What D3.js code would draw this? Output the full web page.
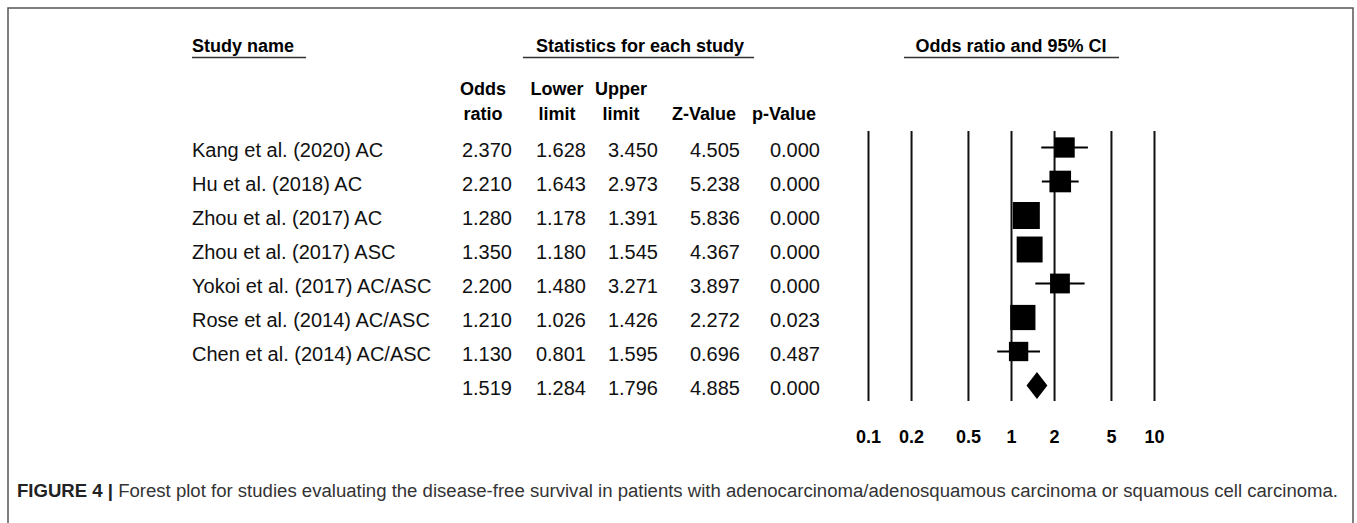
<!DOCTYPE html>
<html>
<head>
<meta charset="utf-8">
<script src="https://cdn.jsdelivr.net/npm/d3@7"></script>
<style>
  html, body { margin: 0; padding: 0; background: #fff; }
  svg { display: block; font-family: "Liberation Sans", Arial, Helvetica, sans-serif; }
  .hdr { font-weight: bold; font-size: 18px; fill: #000; }
  .cell { font-size: 20px; fill: #111; }
  .tick text { font-weight: bold; font-size: 18px; fill: #000; }
</style>
</head>
<body>
<svg id="chart" width="1357" height="523"></svg>
<script>
// ---- data ----
const studies = [
  "Kang et al. (2020) AC",
  "Hu et al. (2018) AC",
  "Zhou et al. (2017) AC",
  "Zhou et al. (2017) ASC",
  "Yokoi et al. (2017) AC/ASC",
  "Rose et al. (2014) AC/ASC",
  "Chen et al. (2014) AC/ASC"
];
const oddsRatio = [2.370, 2.210, 1.280, 1.350, 2.200, 1.210, 1.130];
const lowerLimit = [1.628, 1.643, 1.178, 1.180, 1.480, 1.026, 0.801];
const upperLimit = [3.450, 2.973, 1.391, 1.545, 3.271, 1.426, 1.595];
const zValue = [4.505, 5.238, 5.836, 4.367, 3.897, 2.272, 0.696];
const pValue = [0.000, 0.000, 0.000, 0.000, 0.000, 0.023, 0.487];
// relative weights
const weights = [11.0, 12.5, 19.5, 18.0, 10.5, 17.0, 10.0];
// pooled estimate: OR, lower, upper, Z, p
const summary = [1.519, 1.284, 1.796, 4.885, 0.000];
const tickValues = [0.1, 0.2, 0.5, 1, 2, 5, 10];
const colHeads = [["Odds", "ratio"], ["Lower", "limit"], ["Upper", "limit"], ["", "Z-Value"], ["", "p-Value"]];
const caption = "Forest plot for studies evaluating the disease-free survival in patients with adenocarcinoma/adenosquamous carcinoma or squamous cell carcinoma.";

const svg = d3.select("#chart");
const fmt = d3.format(".3f");

// frame
svg.append("rect").attr("x", 8).attr("y", 8).attr("width", 1345).attr("height", 540)
  .attr("fill", "none").attr("stroke", "#555").attr("stroke-width", 1.5);

// rows: 7 studies + summary
const rowIdx = d3.range(studies.length + 1);
const y = d3.scalePoint().domain(rowIdx).range([147.5, 385.5]);
const x = d3.scaleLog().domain([0.1, 10]).range([868, 1154]);
const boxSize = d3.scaleSqrt().domain([0, d3.max(weights)]).range([0, 27]);

// column positions (right edges of numeric columns, centres of headers)
const colRight = [512, 586, 658, 740, 820];
const colMid = [483, 557, 621, 704, 784];

// section headers with underlines
const sections = [
  { t: "Study name", x: 192, x1: 192, x2: 306, anchor: "start" },
  { t: "Statistics for each study", x: 640, x1: 523, x2: 754, anchor: "middle" },
  { t: "Odds ratio and 95% CI", x: 1011, x1: 904, x2: 1119, anchor: "middle" }
];
const sec = svg.append("g");
sec.selectAll("text").data(sections).join("text")
  .attr("class", "hdr").attr("x", d => d.x).attr("y", 52)
  .attr("text-anchor", d => d.anchor).text(d => d.t);
sec.selectAll("line").data(sections).join("line")
  .attr("x1", d => d.x1).attr("x2", d => d.x2).attr("y1", 57.5).attr("y2", 57.5)
  .attr("stroke", "#333").attr("stroke-width", 1.5);

// column headers (two lines)
const ch = svg.append("g");
colHeads.forEach((h, i) => {
  h.forEach((t, k) => {
    if (!t) return;
    ch.append("text").attr("class", "hdr").attr("x", colMid[i]).attr("y", k ? 120 : 95)
      .attr("text-anchor", "middle").text(t);
  });
});

// table body
const body = svg.append("g");
body.selectAll("text.name").data(studies).join("text")
  .attr("class", "cell name").attr("x", 192).attr("y", (d, i) => y(i) + 9).text(d => d);

const tableRows = studies.map((s, i) => [oddsRatio[i], lowerLimit[i], upperLimit[i], zValue[i], pValue[i]]);
tableRows.push(summary);
tableRows.forEach((r, i) => {
  body.selectAll(null).data(r).join("text")
    .attr("class", "cell").attr("x", (d, j) => colRight[j]).attr("y", y(i) + 9)
    .attr("text-anchor", "end").text(d => fmt(d));
});

// reference lines at each tick + labels
const axis = d3.axisBottom(x).tickValues(tickValues).tickFormat(d3.format("~g"))
  .tickSizeInner(-270).tickSizeOuter(0).tickPadding(29);
const ax = svg.append("g").attr("transform", "translate(0,401)").call(axis);
ax.select(".domain").remove();
ax.selectAll(".tick line").attr("stroke", "#111").attr("stroke-width", 2);

// study markers
const plot = svg.append("g");
plot.selectAll("line.ci").data(studies).join("line").attr("class", "ci")
  .attr("x1", (d, i) => x(lowerLimit[i])).attr("x2", (d, i) => x(upperLimit[i]))
  .attr("y1", (d, i) => y(i)).attr("y2", (d, i) => y(i))
  .attr("stroke", "#000").attr("stroke-width", 2);
plot.selectAll("rect.box").data(studies).join("rect").attr("class", "box")
  .attr("x", (d, i) => x(oddsRatio[i]) - boxSize(weights[i]) / 2)
  .attr("y", (d, i) => y(i) - boxSize(weights[i]) / 2)
  .attr("width", (d, i) => boxSize(weights[i]))
  .attr("height", (d, i) => boxSize(weights[i]))
  .attr("fill", "#000");

// pooled diamond
const sy = y(studies.length), dh = 13.5;
plot.append("path")
  .attr("d", `M${x(summary[1])},${sy} L${x(summary[0])},${sy - dh} L${x(summary[2])},${sy} L${x(summary[0])},${sy + dh} Z`)
  .attr("fill", "#000");

// caption
const cap = svg.append("text").attr("x", 17).attr("y", 497)
  .style("font-size", "18px").attr("fill", "#333")
  .attr("textLength", 1321).attr("lengthAdjust", "spacingAndGlyphs");
cap.append("tspan").style("font-weight", "bold").attr("fill", "#222").text("FIGURE 4 | ");
cap.append("tspan").text(caption);
</script>
</body>
</html>
